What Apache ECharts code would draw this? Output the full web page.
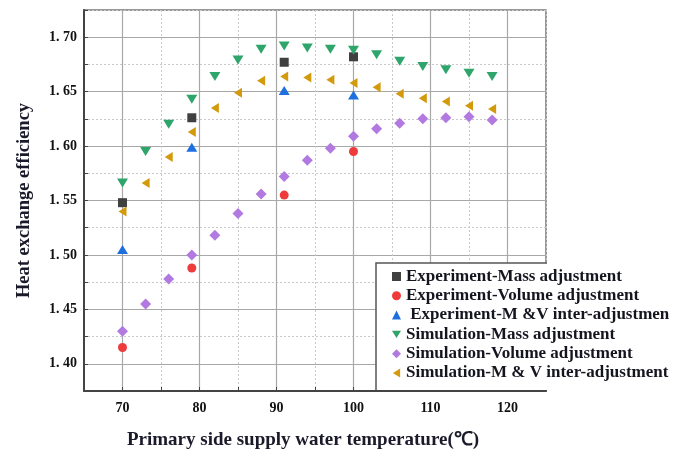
<!DOCTYPE html>
<html>
<head>
<meta charset="utf-8">
<script src="https://cdn.jsdelivr.net/npm/echarts@6/dist/echarts.min.js"></script>
<style>html,body{margin:0;padding:0;background:#fff}#c{width:687px;height:449px}</style>
</head>
<body>
<div id="c"></div>
<script>
var simX = [70,73,76,79,82,85,88,91,94,97,100,103,106,109,112,115,118];
var simMass = [1.566,1.595,1.620,1.643,1.664,1.679,1.689,1.692,1.690,1.689,1.688,1.684,1.678,1.673,1.670,1.667,1.664];
var simVolume = [1.430,1.455,1.478,1.500,1.518,1.538,1.556,1.572,1.587,1.598,1.609,1.616,1.621,1.625,1.626,1.627,1.624];
var simMV = [1.540,1.566,1.590,1.613,1.635,1.649,1.660,1.664,1.663,1.661,1.658,1.654,1.648,1.644,1.641,1.637,1.634];
var expX = [70,79,91,100];
var expMass = [1.548,1.626,1.677,1.682];
var expVolume = [1.415,1.488,1.555,1.595];
var expMV = [1.505,1.599,1.651,1.647];
var seriesNames = ['Experiment-Mass adjustment','Experiment-Volume adjustment',' Experiment-M &V inter-adjustmen','Simulation-Mass adjustment','Simulation-Volume adjustment','Simulation-M & V inter-adjustment'];
var xTitle = 'Primary side supply water temperature(\u2103)';
var yTitle = 'Heat exchange efficiency';

function pairs(xs, ys){ return xs.map(function(x,i){return [x, ys[i]];}); }

var serif = '"Liberation Serif", "Times New Roman", serif';
var chart = echarts.init(document.getElementById('c'), null, {renderer:'canvas'});

function xLabel(v){ return (Math.abs(v % 10) < 1e-6) ? String(Math.round(v)) : ''; }
function yLabel(v){ var k = v*20; return Math.abs(k - Math.round(k)) < 1e-6 ? v.toFixed(2).replace('.', '. ') : ''; }

var TRI_DOWN = 'path://M0,0L22,0L11,18Z';
var TRI_LEFT = 'path://M16,0L16,20L0,10Z';

var mk = function(name, data, symbol, size, color){
  return {name:name, type:'scatter', data:data, symbol:symbol, symbolSize:size,
    itemStyle:{color:color, opacity:1}, xAxisIndex:0, yAxisIndex:0, z:3};
};

chart.setOption({
  animation:false,
  backgroundColor:'#fff',
  grid:{left:84, right:141, top:10, bottom:58, outerBoundsMode:'none', containLabel:false, show:true, borderColor:'#777', borderWidth:1.5, backgroundColor:'transparent'},
  xAxis:[{
    type:'value', min:65, max:125, interval:5, position:'bottom',
    name:xTitle, nameLocation:'middle', nameGap:40,
    nameTextStyle:{fontFamily:serif, fontWeight:'bold', fontSize:19, color:'#1a1a2a', padding:[0,24,0,0]},
    axisLine:{show:true, onZero:false, lineStyle:{color:'#444', width:2}},
    axisTick:{show:true, inside:true, length:4, lineStyle:{color:'#444'}},
    axisLabel:{formatter:xLabel, fontFamily:serif, fontWeight:'bold', fontSize:14, color:'#111', margin:10, showMinLabel:true, showMaxLabel:true},
    splitLine:{show:true, lineStyle:{color:'#c8c8c8', type:[2,2], width:1}}
  },{
    type:'value', min:65, max:125, interval:5, position:'top',
    axisLine:{show:false}, axisTick:{show:false}, axisLabel:{show:false},
    splitLine:{show:true, lineStyle:{color:['rgba(0,0,0,0)','#a8a8a8'], width:1.2}}
  }],
  yAxis:[{
    type:'value', min:1.375, max:1.725, interval:0.025, position:'left',
    name:yTitle, nameLocation:'middle', nameGap:50, nameRotate:90,
    nameTextStyle:{fontFamily:serif, fontWeight:'bold', fontSize:18.5, color:'#1a1a2a'},
    axisLine:{show:true, onZero:false, lineStyle:{color:'#444', width:2}},
    axisTick:{show:true, inside:true, length:4, lineStyle:{color:'#444'}},
    axisLabel:{formatter:yLabel, fontFamily:serif, fontWeight:'bold', fontSize:14, color:'#111', margin:7},
    splitLine:{show:true, lineStyle:{color:'#c8c8c8', type:[2,2], width:1}}
  },{
    type:'value', min:1.375, max:1.725, interval:0.025, position:'right',
    axisLine:{show:false}, axisTick:{show:false}, axisLabel:{show:false},
    splitLine:{show:true, lineStyle:{color:['rgba(0,0,0,0)','#a8a8a8'], width:1.2}}
  }],
  legend:{
    orient:'vertical', left:392, top:268, padding:0, itemGap:2.3, itemWidth:9, itemHeight:9, z:10,
    data:seriesNames,
    textStyle:{fontFamily:serif, fontWeight:'bold', fontSize:17, lineHeight:17, color:'#151520'}
  },
  graphic:[
    {type:'rect', z:8, shape:{x:376, y:263, width:311, height:127}, style:{fill:'#fff'}},
    {type:'polyline', z:9, shape:{points:[[376,390],[376,263],[547,263]]}, style:{stroke:'#555', lineWidth:1.5, fill:null}}
  ],
  series:[
    mk(seriesNames[0], pairs(expX, expMass), 'rect', 9, '#404040'),
    mk(seriesNames[1], pairs(expX, expVolume), 'circle', 9, '#ee3b3b'),
    mk(seriesNames[2], pairs(expX, expMV), 'triangle', [11,9], '#1e6fe0'),
    mk(seriesNames[3], pairs(simX, simMass), TRI_DOWN, [11,9], '#2ea56a'),
    mk(seriesNames[4], pairs(simX, simVolume), 'diamond', 11, '#b27ae0'),
    mk(seriesNames[5], pairs(simX, simMV), TRI_LEFT, [8,10], '#d39a0c')
  ]
});
</script>
</body>
</html>
